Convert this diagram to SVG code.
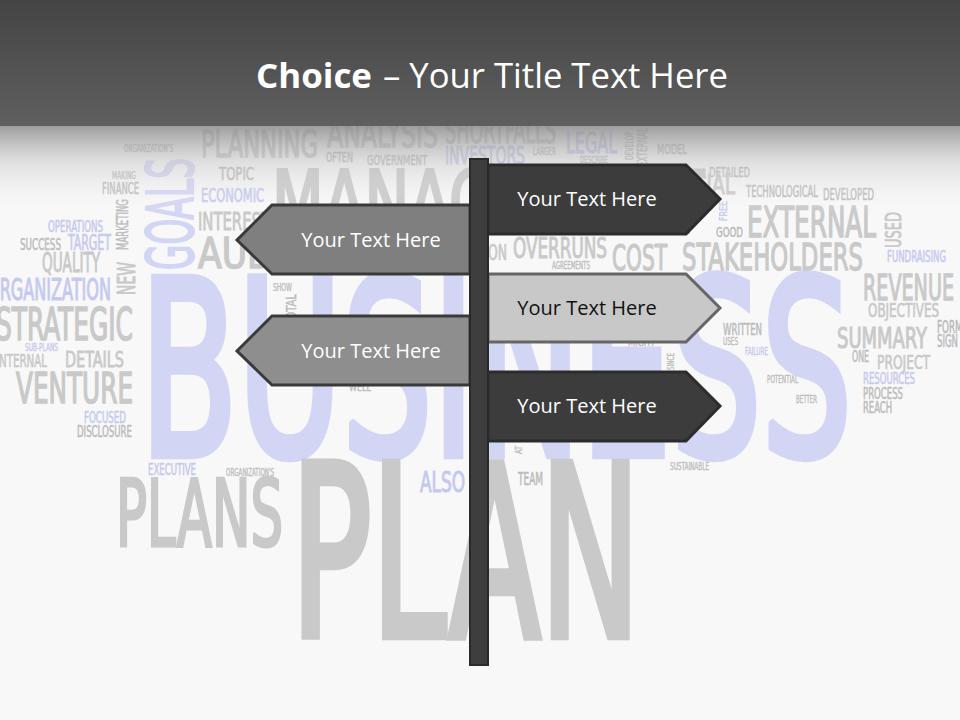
<svg xmlns="http://www.w3.org/2000/svg" width="960" height="720" viewBox="0 0 960 720">
<defs>
<linearGradient id="hdr" x1="0" y1="0" x2="0" y2="1">
<stop offset="0" stop-color="#444444"/>
<stop offset="1" stop-color="#5f5f5f"/>
</linearGradient>
<linearGradient id="fade" x1="0" y1="0" x2="0" y2="1">
<stop offset="0" stop-color="#8a8a8a" stop-opacity="0.85"/>
<stop offset="0.4" stop-color="#c4c4c4" stop-opacity="0.5"/>
<stop offset="1" stop-color="#f8f8f8" stop-opacity="0"/>
</linearGradient>
<style>
.w{font-family:"Liberation Sans Narrow","DejaVu Sans Condensed","Liberation Sans",sans-serif;font-weight:normal;stroke-width:0.035em;stroke-linejoin:miter;stroke-miterlimit:2;}
.g{fill:#c9c9c9;stroke:#c9c9c9;}
.gd{fill:#bcbcbc;stroke:#bcbcbc;}
.l{fill:#d3d5f5;stroke:#d3d5f5;}
.ld{fill:#c6c9ef;stroke:#c6c9ef;}
.sign{stroke-width:3;stroke-linejoin:miter;}
.lbl{font-family:"Open Sans","DejaVu Sans",sans-serif;font-size:20px;text-anchor:middle;}
</style>
</defs>
<rect x="0" y="0" width="960" height="720" fill="#f8f8f8"/>
<g id="wordcloud">
<text class="w l" x="140" y="455" font-size="243" textLength="712" lengthAdjust="spacingAndGlyphs">BUSINESS</text>
<text class="w g" x="291" y="636" font-size="238" textLength="349" lengthAdjust="spacingAndGlyphs">PLAN</text>
<text class="w g" x="116" y="546" font-size="92" textLength="167" lengthAdjust="spacingAndGlyphs">PLANS</text>
<text class="w ld" x="148" y="475" font-size="15" textLength="48" lengthAdjust="spacingAndGlyphs">EXECUTIVE</text>
<text class="w gd" x="226" y="476" font-size="10" textLength="48" lengthAdjust="spacingAndGlyphs">ORGANIZATION'S</text>
<text class="w ld" x="420" y="492" font-size="28" textLength="45" lengthAdjust="spacingAndGlyphs">ALSO</text>
<text class="w gd" x="518" y="485" font-size="17" textLength="25" lengthAdjust="spacingAndGlyphs">TEAM</text>
<text class="w gd" x="670" y="470" font-size="10" textLength="39" lengthAdjust="spacingAndGlyphs">SUSTAINABLE</text>
<text class="w gd" x="124" y="152" font-size="10" textLength="49" lengthAdjust="spacingAndGlyphs">ORGANIZATION'S</text>
<text class="w gd" x="112" y="179" font-size="10" textLength="24" lengthAdjust="spacingAndGlyphs">MAKING</text>
<text class="w gd" x="102" y="194" font-size="15" textLength="37" lengthAdjust="spacingAndGlyphs">FINANCE</text>
<text class="w l" transform="translate(193,270) rotate(-90)" font-size="64" textLength="112" lengthAdjust="spacingAndGlyphs">GOALS</text>
<text class="w gd" transform="translate(128,250) rotate(-90)" font-size="15" textLength="51" lengthAdjust="spacingAndGlyphs">MARKETING</text>
<text class="w g" transform="translate(135,295) rotate(-90)" font-size="25" textLength="33" lengthAdjust="spacingAndGlyphs">NEW</text>
<text class="w ld" x="48" y="232" font-size="15" textLength="55" lengthAdjust="spacingAndGlyphs">OPERATIONS</text>
<text class="w gd" x="20" y="250" font-size="15" textLength="41" lengthAdjust="spacingAndGlyphs">SUCCESS</text>
<text class="w ld" x="68" y="250" font-size="21" textLength="43" lengthAdjust="spacingAndGlyphs">TARGET</text>
<text class="w g" x="42" y="272" font-size="26" textLength="58" lengthAdjust="spacingAndGlyphs">QUALITY</text>
<text class="w ld" x="-13" y="300" font-size="31" textLength="124" lengthAdjust="spacingAndGlyphs">ORGANIZATION</text>
<text class="w g" x="-4" y="340" font-size="44" textLength="137" lengthAdjust="spacingAndGlyphs">STRATEGIC</text>
<text class="w ld" x="25" y="351" font-size="10" textLength="33" lengthAdjust="spacingAndGlyphs">SUB-PLANS</text>
<text class="w g" x="-4" y="367" font-size="18" textLength="51" lengthAdjust="spacingAndGlyphs">INTERNAL</text>
<text class="w g" x="65" y="367" font-size="22" textLength="59" lengthAdjust="spacingAndGlyphs">DETAILS</text>
<text class="w g" x="16" y="403" font-size="43" textLength="117" lengthAdjust="spacingAndGlyphs">VENTURE</text>
<text class="w ld" x="84" y="423" font-size="15" textLength="42" lengthAdjust="spacingAndGlyphs">FOCUSED</text>
<text class="w gd" x="77" y="437" font-size="15" textLength="55" lengthAdjust="spacingAndGlyphs">DISCLOSURE</text>
<text class="w g" x="201" y="157" font-size="37" textLength="117" lengthAdjust="spacingAndGlyphs">PLANNING</text>
<text class="w g" x="327" y="147" font-size="37" textLength="111" lengthAdjust="spacingAndGlyphs">ANALYSIS</text>
<text class="w g" x="445" y="143" font-size="35" textLength="111" lengthAdjust="spacingAndGlyphs">SHORTFALLS</text>
<text class="w gd" x="326" y="162" font-size="14" textLength="27" lengthAdjust="spacingAndGlyphs">OFTEN</text>
<text class="w gd" x="367" y="165" font-size="14" textLength="60" lengthAdjust="spacingAndGlyphs">GOVERNMENT</text>
<text class="w ld" x="445" y="164" font-size="24" textLength="80" lengthAdjust="spacingAndGlyphs">INVESTORS</text>
<text class="w gd" x="533" y="155" font-size="10" textLength="23" lengthAdjust="spacingAndGlyphs">LARGER</text>
<text class="w ld" x="566" y="153" font-size="29" textLength="51" lengthAdjust="spacingAndGlyphs">LEGAL</text>
<text class="w gd" x="580" y="163" font-size="9" textLength="28" lengthAdjust="spacingAndGlyphs">DESCRIBE</text>
<text class="w gd" transform="translate(633,160) rotate(-90)" font-size="10" textLength="28" lengthAdjust="spacingAndGlyphs">DEVELOP</text>
<text class="w gd" transform="translate(647,166) rotate(-90)" font-size="14" textLength="38" lengthAdjust="spacingAndGlyphs">EXTERNAL</text>
<text class="w gd" x="657" y="154" font-size="14" textLength="30" lengthAdjust="spacingAndGlyphs">MODEL</text>
<text class="w gd" x="219" y="180" font-size="18" textLength="35" lengthAdjust="spacingAndGlyphs">TOPIC</text>
<text class="w ld" x="201" y="202" font-size="19" textLength="63" lengthAdjust="spacingAndGlyphs">ECONOMIC</text>
<text class="w g" x="272" y="232" font-size="86" textLength="432" lengthAdjust="spacingAndGlyphs">MANAGEMENT</text>
<text class="w g" x="198" y="230" font-size="25" textLength="72" lengthAdjust="spacingAndGlyphs">INTEREST</text>
<text class="w g" x="198" y="268" font-size="43" textLength="180" lengthAdjust="spacingAndGlyphs">AUDIENCE</text>
<text class="w gd" x="273" y="291" font-size="10" textLength="19" lengthAdjust="spacingAndGlyphs">SHOW</text>
<text class="w gd" transform="translate(296,326) rotate(-90)" font-size="14" textLength="32" lengthAdjust="spacingAndGlyphs">TOTAL</text>
<text class="w gd" x="349" y="391" font-size="10" textLength="22" lengthAdjust="spacingAndGlyphs">WELL</text>
<text class="w g" x="488" y="260" font-size="21" textLength="19" lengthAdjust="spacingAndGlyphs">ON</text>
<text class="w g" x="513" y="258" font-size="28" textLength="94" lengthAdjust="spacingAndGlyphs">OVERRUNS</text>
<text class="w gd" x="552" y="269" font-size="10" textLength="38" lengthAdjust="spacingAndGlyphs">AGREEMENTS</text>
<text class="w g" x="612" y="270" font-size="35" textLength="55" lengthAdjust="spacingAndGlyphs">COST</text>
<text class="w g" x="682" y="270" font-size="37" textLength="181" lengthAdjust="spacingAndGlyphs">STAKEHOLDERS</text>
<text class="w gd" x="628" y="346" font-size="10" textLength="27" lengthAdjust="spacingAndGlyphs">MIGHT</text>
<text class="w gd" transform="translate(674,370) rotate(-90)" font-size="9" textLength="17" lengthAdjust="spacingAndGlyphs">SINCE</text>
<text class="w gd" transform="translate(522,454) rotate(-90)" font-size="9" textLength="8" lengthAdjust="spacingAndGlyphs">AT</text>
<text class="w gd" x="709" y="177" font-size="14" textLength="41" lengthAdjust="spacingAndGlyphs">DETAILED</text>
<text class="w g" x="637" y="194" font-size="26" textLength="98" lengthAdjust="spacingAndGlyphs">FINANCIAL</text>
<text class="w gd" x="746" y="197" font-size="15" textLength="72" lengthAdjust="spacingAndGlyphs">TECHNOLOGICAL</text>
<text class="w gd" x="823" y="200" font-size="15" textLength="51" lengthAdjust="spacingAndGlyphs">DEVELOPED</text>
<text class="w ld" transform="translate(727,221) rotate(-90)" font-size="10" textLength="20" lengthAdjust="spacingAndGlyphs">FREE</text>
<text class="w gd" x="716" y="237" font-size="14" textLength="27" lengthAdjust="spacingAndGlyphs">GOOD</text>
<text class="w g" x="747" y="237" font-size="42" textLength="129" lengthAdjust="spacingAndGlyphs">EXTERNAL</text>
<text class="w g" transform="translate(901,248) rotate(-90)" font-size="22" textLength="36" lengthAdjust="spacingAndGlyphs">USED</text>
<text class="w ld" x="887" y="262" font-size="15" textLength="59" lengthAdjust="spacingAndGlyphs">FUNDRAISING</text>
<text class="w g" x="863" y="300" font-size="36" textLength="91" lengthAdjust="spacingAndGlyphs">REVENUE</text>
<text class="w g" x="868" y="317" font-size="20" textLength="71" lengthAdjust="spacingAndGlyphs">OBJECTIVES</text>
<text class="w g" x="837" y="348" font-size="29" textLength="90" lengthAdjust="spacingAndGlyphs">SUMMARY</text>
<text class="w gd" x="937" y="333" font-size="17" textLength="36" lengthAdjust="spacingAndGlyphs">FORMAT</text>
<text class="w gd" x="937" y="347" font-size="17" textLength="21" lengthAdjust="spacingAndGlyphs">SIGN</text>
<text class="w gd" x="852" y="362" font-size="15" textLength="17" lengthAdjust="spacingAndGlyphs">ONE</text>
<text class="w g" x="877" y="369" font-size="20" textLength="53" lengthAdjust="spacingAndGlyphs">PROJECT</text>
<text class="w ld" x="863" y="384" font-size="15" textLength="52" lengthAdjust="spacingAndGlyphs">RESOURCES</text>
<text class="w gd" x="863" y="399" font-size="15" textLength="40" lengthAdjust="spacingAndGlyphs">PROCESS</text>
<text class="w gd" x="863" y="413" font-size="15" textLength="29" lengthAdjust="spacingAndGlyphs">REACH</text>
<text class="w gd" x="723" y="335" font-size="15" textLength="39" lengthAdjust="spacingAndGlyphs">WRITTEN</text>
<text class="w gd" x="723" y="345" font-size="10" textLength="15" lengthAdjust="spacingAndGlyphs">USES</text>
<text class="w ld" x="745" y="355" font-size="10" textLength="23" lengthAdjust="spacingAndGlyphs">FAILURE</text>
<text class="w gd" x="767" y="383" font-size="10" textLength="31" lengthAdjust="spacingAndGlyphs">POTENTIAL</text>
<text class="w gd" x="796" y="403" font-size="10" textLength="21" lengthAdjust="spacingAndGlyphs">BETTER</text>
</g>
<rect x="0" y="125" width="960" height="90" fill="url(#fade)"/>
<g id="header">
<rect x="0" y="0" width="960" height="126" fill="url(#hdr)"/>
<text x="256" y="88" font-family="Open Sans, DejaVu Sans, sans-serif" font-size="34" font-weight="bold" fill="#ffffff" textLength="116" lengthAdjust="spacingAndGlyphs">Choice</text>
<text x="383" y="88" font-family="Open Sans, DejaVu Sans, sans-serif" font-size="34" fill="#ffffff" textLength="345" lengthAdjust="spacingAndGlyphs">– Your Title Text Here</text>
</g>
<g id="sign1">
<polygon class="sign" points="488,165 686,165 720,199 686,234 488,234" fill="#3c3c3c" stroke="#2c2c2c"/>
<text class="lbl" x="587" y="206" fill="#ffffff">Your Text Here</text>
</g>
<g id="sign2">
<polygon class="sign" points="470,205 272,205 237,240 272,274 470,274" fill="#7f7f7f" stroke="#3a3a3a"/>
<text class="lbl" x="371" y="247" fill="#ffffff">Your Text Here</text>
</g>
<g id="sign3">
<polygon class="sign" points="488,274 686,274 720,308 686,342 488,342" fill="#c8c8c8" stroke="#666666"/>
<text class="lbl" x="587" y="315" fill="#111111">Your Text Here</text>
</g>
<g id="sign4">
<polygon class="sign" points="470,316 272,316 237,351 272,385 470,385" fill="#8e8e8e" stroke="#3a3a3a"/>
<text class="lbl" x="371" y="358" fill="#ffffff">Your Text Here</text>
</g>
<g id="sign5">
<polygon class="sign" points="488,372 686,372 720,406 686,441 488,441" fill="#3c3c3c" stroke="#2c2c2c"/>
<text class="lbl" x="587" y="413" fill="#ffffff">Your Text Here</text>
</g>
<g id="connectors">
<rect x="470" y="159" width="18" height="506" fill="#3e3e3e" stroke="#2a2a2a" stroke-width="2"/>
</g>
</svg>
